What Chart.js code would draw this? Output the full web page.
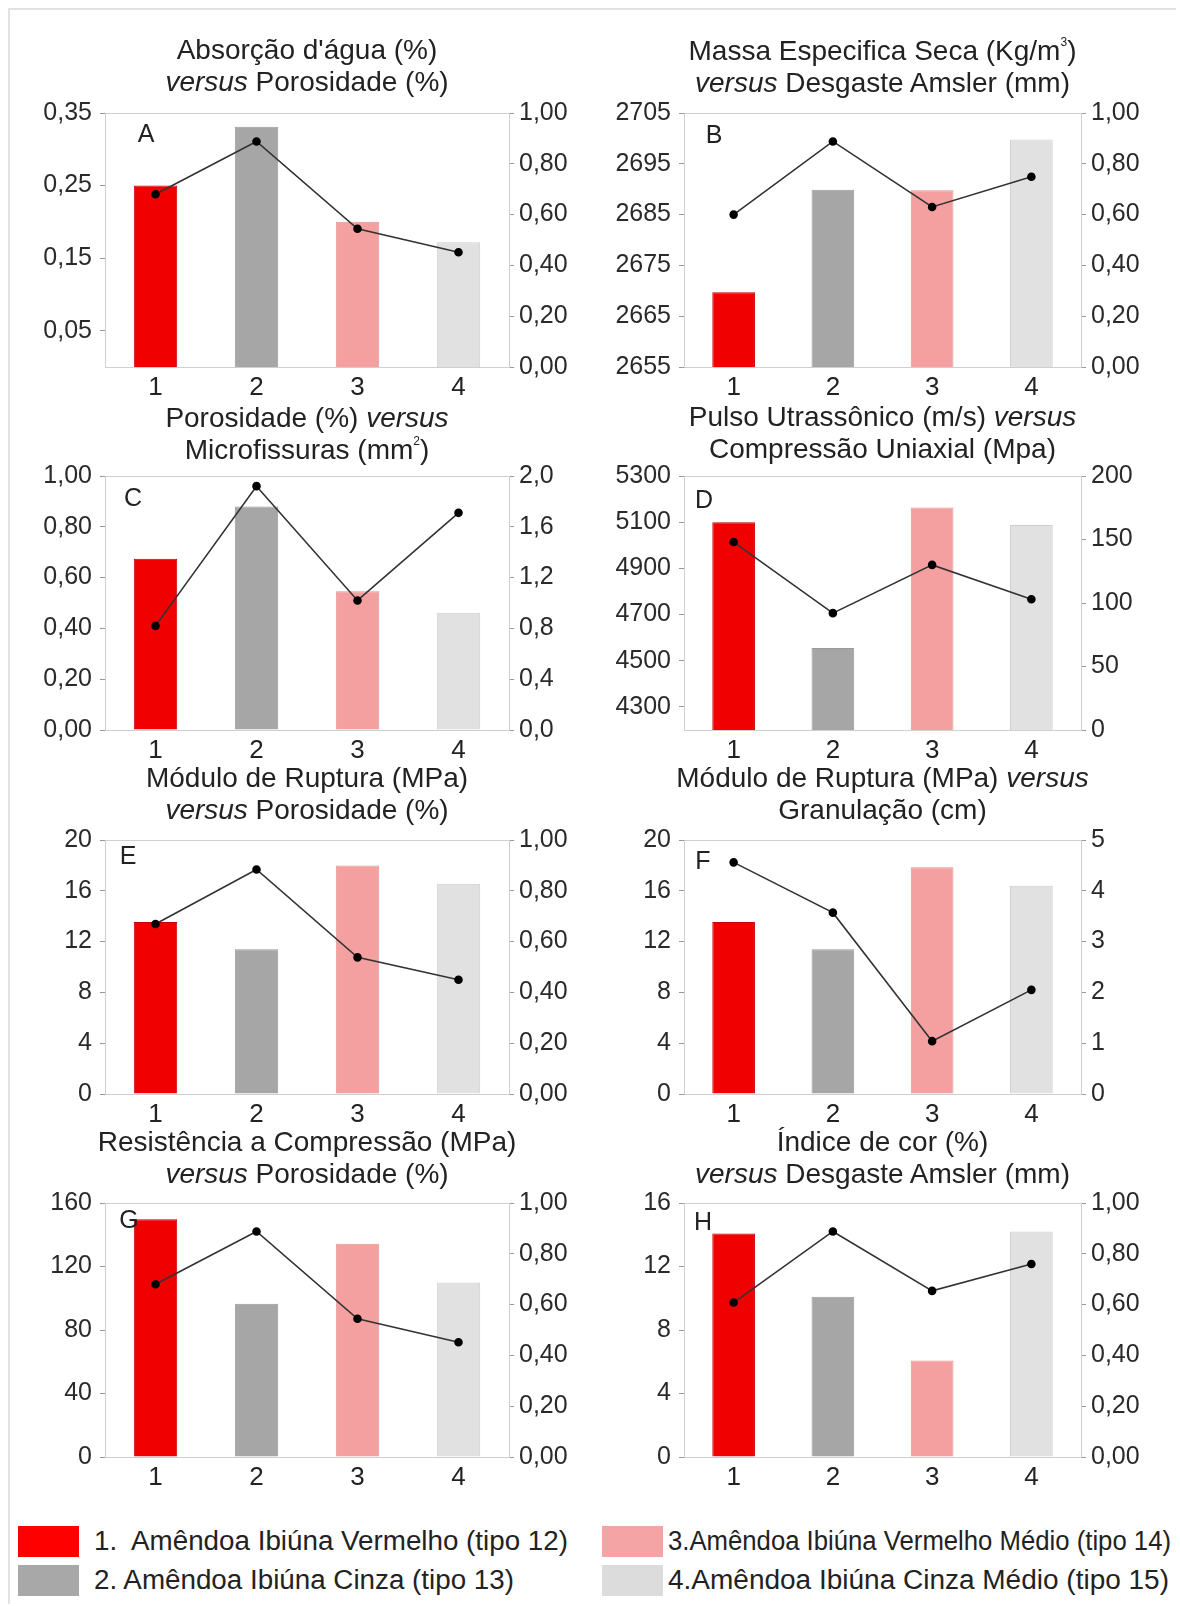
<!DOCTYPE html>
<html>
<head>
<meta charset="utf-8">
<script src="https://cdn.jsdelivr.net/npm/chart.js@4.4.1/dist/chart.umd.min.js"></script>
<style>
    body { margin: 0; width: 1180px; height: 1606px; position: relative; overflow: hidden; background: #fff;
           font-family: "Liberation Sans", Arial, sans-serif; color: #222; }
    .frame { position: absolute; left: 8px; top: 8px; width: 1166px; height: 1594px;
             border-left: 2px solid #e2e2e2; border-top: 2px solid #e2e2e2; }
    .title { position: absolute; width: 560px; text-align: center; font-size: 28px; line-height: 32px; white-space: nowrap; }
    .title sup { font-size: 12px; line-height: 0; position: relative; top: -14px; vertical-align: baseline; }
    .letter { position: absolute; font-size: 25px; transform: translate(-50%, -50%); }
    canvas { position: absolute; }
    .sw { position: absolute; width: 61px; height: 31px; }
    .lt { position: absolute; font-size: 27px; line-height: 32px; white-space: pre; transform-origin: 0 50%; }
</style>
</head>
<body>
<div class="frame"></div>
<div id="root"></div>
<script>
// categorias (eixo x)
const categorias = ['1', '2', '3', '4'];

// A - Absorção d'água x Porosidade
const barrasA = [0.25, 0.331, 0.20, 0.172];
const linhaA = [0.68, 0.888, 0.544, 0.452];
const ticksEsqA = ['0,05', '0,15', '0,25', '0,35'];
const ticksDirA = ['0,00', '0,20', '0,40', '0,60', '0,80', '1,00'];

// B - Massa específica x Desgaste Amsler
const barrasB = [2669.7, 2689.9, 2689.8, 2699.8];
const linhaB = [0.60, 0.888, 0.63, 0.749];
const ticksEsqB = ['2655', '2665', '2675', '2685', '2695', '2705'];
const ticksDirB = ['0,00', '0,20', '0,40', '0,60', '0,80', '1,00'];

// C - Porosidade x Microfissuras
const barrasC = [0.674, 0.88, 0.546, 0.462];
const linhaC = [0.82, 1.92, 1.02, 1.71];
const ticksEsqC = ['0,00', '0,20', '0,40', '0,60', '0,80', '1,00'];
const ticksDirC = ['0,0', '0,4', '0,8', '1,2', '1,6', '2,0'];

// D - Pulso ultrassônico x Compressão uniaxial
const barrasD = [5100, 4555, 5164, 5088];
const linhaD = [148, 92, 130, 103];
const ticksEsqD = ['4300', '4500', '4700', '4900', '5100', '5300'];
const ticksDirD = ['0', '50', '100', '150', '200'];

// E - Módulo de ruptura x Porosidade
const barrasE = [13.55, 11.4, 18.0, 16.55];
const linhaE = [0.669, 0.884, 0.538, 0.45];
const ticksEsqE = ['0', '4', '8', '12', '16', '20'];
const ticksDirE = ['0,00', '0,20', '0,40', '0,60', '0,80', '1,00'];

// F - Módulo de ruptura x Granulação
const barrasF = [13.55, 11.4, 17.85, 16.4];
const linhaF = [4.56, 3.57, 1.04, 2.05];
const ticksEsqF = ['0', '4', '8', '12', '16', '20'];
const ticksDirF = ['0', '1', '2', '3', '4', '5'];

// G - Resistência a compressão x Porosidade
const barrasG = [149.8, 96.6, 134.4, 110];
const linhaG = [0.68, 0.888, 0.544, 0.452];
const ticksEsqG = ['0', '40', '80', '120', '160'];
const ticksDirG = ['0,00', '0,20', '0,40', '0,60', '0,80', '1,00'];

// H - Índice de cor x Desgaste Amsler
const barrasH = [14.08, 10.1, 6.08, 14.2];
const linhaH = [0.608, 0.888, 0.654, 0.76];
const ticksEsqH = ['0', '4', '8', '12', '16'];
const ticksDirH = ['0,00', '0,20', '0,40', '0,60', '0,80', '1,00'];

// limites dos eixos [min, max]
const limitesEsq = { A: [0, 0.35], B: [2655, 2705], C: [0, 1], D: [4200, 5300], E: [0, 20], F: [0, 20], G: [0, 160], H: [0, 16] };
const limitesDir = { A: [0, 1], B: [0, 1], C: [0, 2], D: [0, 200], E: [0, 1], F: [0, 5], G: [0, 1], H: [0, 1] };

const legendas = [
    '1.  Amêndoa Ibiúna Vermelho (tipo 12)',
    '2. Amêndoa Ibiúna Cinza (tipo 13)',
    '3.Amêndoa Ibiúna Vermelho Médio (tipo 14)',
    '4.Amêndoa Ibiúna Cinza Médio (tipo 15)'
];

const titulos = {
    A: ['Absorção d\'água (%)', '<i>versus</i> Porosidade (%)'],
    B: ['Massa Especifica Seca (Kg/m<sup>3</sup>)', '<i>versus</i> Desgaste Amsler (mm)'],
    C: ['Porosidade (%) <i>versus</i>', 'Microfissuras (mm<sup>2</sup>)'],
    D: ['Pulso Utrassônico (m/s) <i>versus</i>', 'Compressão Uniaxial (Mpa)'],
    E: ['Módulo de Ruptura (MPa)', '<i>versus</i> Porosidade (%)'],
    F: ['Módulo de Ruptura (MPa) <i>versus</i>', 'Granulação (cm)'],
    G: ['Resistência a Compressão (MPa)', '<i>versus</i> Porosidade (%)'],
    H: ['Índice de cor (%)', '<i>versus</i> Desgaste Amsler (mm)']
};

const dados = {
    A: [barrasA, linhaA, ticksEsqA, ticksDirA],
    B: [barrasB, linhaB, ticksEsqB, ticksDirB],
    C: [barrasC, linhaC, ticksEsqC, ticksDirC],
    D: [barrasD, linhaD, ticksEsqD, ticksDirD],
    E: [barrasE, linhaE, ticksEsqE, ticksDirE],
    F: [barrasF, linhaF, ticksEsqF, ticksDirF],
    G: [barrasG, linhaG, ticksEsqG, ticksDirG],
    H: [barrasH, linhaH, ticksEsqH, ticksDirH]
};

// posição de cada painel (área do gráfico em px)
const paineis = [
    { id: 'A', L: 105, R: 509, T: 110, B: 367, ty: 50, letra: [146, 133] },
    { id: 'B', L: 684, R: 1081, T: 110, B: 367, ty: 51, letra: [714, 134] },
    { id: 'C', L: 105, R: 509, T: 473, B: 730, ty: 418, letra: [133, 497] },
    { id: 'D', L: 684, R: 1081, T: 473, B: 730, ty: 417, letra: [704, 499] },
    { id: 'E', L: 105, R: 509, T: 837, B: 1094, ty: 778, letra: [128, 855] },
    { id: 'F', L: 684, R: 1081, T: 837, B: 1094, ty: 778, letra: [703, 860] },
    { id: 'G', L: 105, R: 509, T: 1200, B: 1457, ty: 1142, letra: [129, 1219] },
    { id: 'H', L: 684, R: 1081, T: 1200, B: 1457, ty: 1142, letra: [703, 1221] }
];

const coresBarras = ['#f00000', '#a6a6a6', '#f4a0a0', '#e1e1e1'];
const bordasBarras = ['#c40000', '#999999', '#e89393', '#cdcdcd'];
const coresLegenda = ['#ff0000', '#a8a8a8', '#f4a4a4', '#dcdcdc'];

const MARGEM = 100, TOPO = 20, BASE = 45;
const root = document.getElementById('root');

const moldura = {
    id: 'moldura',
    beforeDatasetsDraw(chart) {
        const a = chart.chartArea, ctx = chart.ctx;
        ctx.save();
        ctx.strokeStyle = '#cfcfcf';
        ctx.lineWidth = 1;
        ctx.strokeRect(a.left + 0.5, a.top + 0.5, a.right - a.left, a.bottom - a.top);
        ctx.restore();
    }
};

function eixoY(rotulos, limites, pos, pad) {
    return {
        type: 'linear',
        position: pos,
        min: limites[0],
        max: limites[1],
        afterBuildTicks: axis => {
            axis.ticks = rotulos.map(s => ({ value: parseFloat(s.replace(',', '.')) }));
        },
        afterFit: s => { s.width = MARGEM; },
        ticks: {
            callback: (v, i) => rotulos[i],
            color: '#2a2a2a',
            padding: pad,
            autoSkip: false,
            font: { family: 'Liberation Sans', size: 25 }
        },
        grid: { drawOnChartArea: false, drawTicks: true, tickLength: 5, color: '#999' },
        border: { color: '#999' }
    };
}

paineis.forEach(p => {
    const [barras, linha, tEsq, tDir] = dados[p.id];
    const w = p.R - p.L + 2 * MARGEM, h = p.B - p.T + TOPO + BASE;

    const cv = document.createElement('canvas');
    cv.width = w; cv.height = h;
    cv.style.left = (p.L - MARGEM) + 'px';
    cv.style.top = (p.T - TOPO) + 'px';
    cv.style.width = w + 'px'; cv.style.height = h + 'px';
    root.appendChild(cv);

    const tt = document.createElement('div');
    tt.className = 'title';
    tt.style.left = ((p.L + p.R) / 2 - 280) + 'px';
    tt.style.top = (p.ty - 16) + 'px';
    tt.innerHTML = titulos[p.id].join('<br>');
    root.appendChild(tt);

    const lt = document.createElement('div');
    lt.className = 'letter';
    lt.style.left = p.letra[0] + 'px';
    lt.style.top = p.letra[1] + 'px';
    lt.textContent = p.id;
    root.appendChild(lt);

    new Chart(cv, {
        data: {
            labels: categorias,
            datasets: [{
                type: 'line',
                data: linha,
                yAxisID: 'y1',
                order: 0,
                borderColor: '#333',
                borderWidth: 1.6,
                pointRadius: 3.5,
                pointBackgroundColor: '#000',
                pointBorderColor: '#000',
                tension: 0
            }, {
                type: 'bar',
                data: barras,
                yAxisID: 'y',
                order: 1,
                backgroundColor: coresBarras,
                borderColor: bordasBarras,
                borderWidth: 1,
                barPercentage: 0.43,
                categoryPercentage: 1
            }]
        },
        options: {
            responsive: false,
            animation: false,
            devicePixelRatio: 1,
            layout: { padding: { top: TOPO, left: 0, right: 0, bottom: 0 } },
            plugins: { legend: { display: false }, tooltip: { enabled: false } },
            scales: {
                x: {
                    offset: true,
                    afterFit: s => { s.height = BASE; },
                    grid: { display: false, drawTicks: false },
                    border: { color: '#888' },
                    ticks: { color: '#222', padding: 5, font: { family: 'Liberation Sans', size: 26 } }
                },
                y: eixoY(tEsq, limitesEsq[p.id], 'left', 8),
                y1: eixoY(tDir, limitesDir[p.id], 'right', 5)
            }
        },
        plugins: [moldura]
    });
});

// legenda comum: [x amostra, y amostra, x texto, y centro texto, largura do texto]
const posLeg = [[18, 1526, 94, 1541, 474], [18, 1565, 94, 1580, 420], [602, 1526, 668, 1541, 503], [602, 1565, 668, 1580, 501]];
legendas.forEach((txt, i) => {
    const [sx, sy, tx, ty, larg] = posLeg[i];
    const sw = document.createElement('div');
    sw.className = 'sw';
    sw.style.left = sx + 'px'; sw.style.top = sy + 'px';
    sw.style.background = coresLegenda[i];
    root.appendChild(sw);
    const t = document.createElement('div');
    t.className = 'lt';
    t.style.left = tx + 'px'; t.style.top = (ty - 16) + 'px';
    t.textContent = txt;
    root.appendChild(t);
    t.style.transform = 'scaleX(' + (larg / t.getBoundingClientRect().width) + ')';
});
</script>
</body>
</html>
